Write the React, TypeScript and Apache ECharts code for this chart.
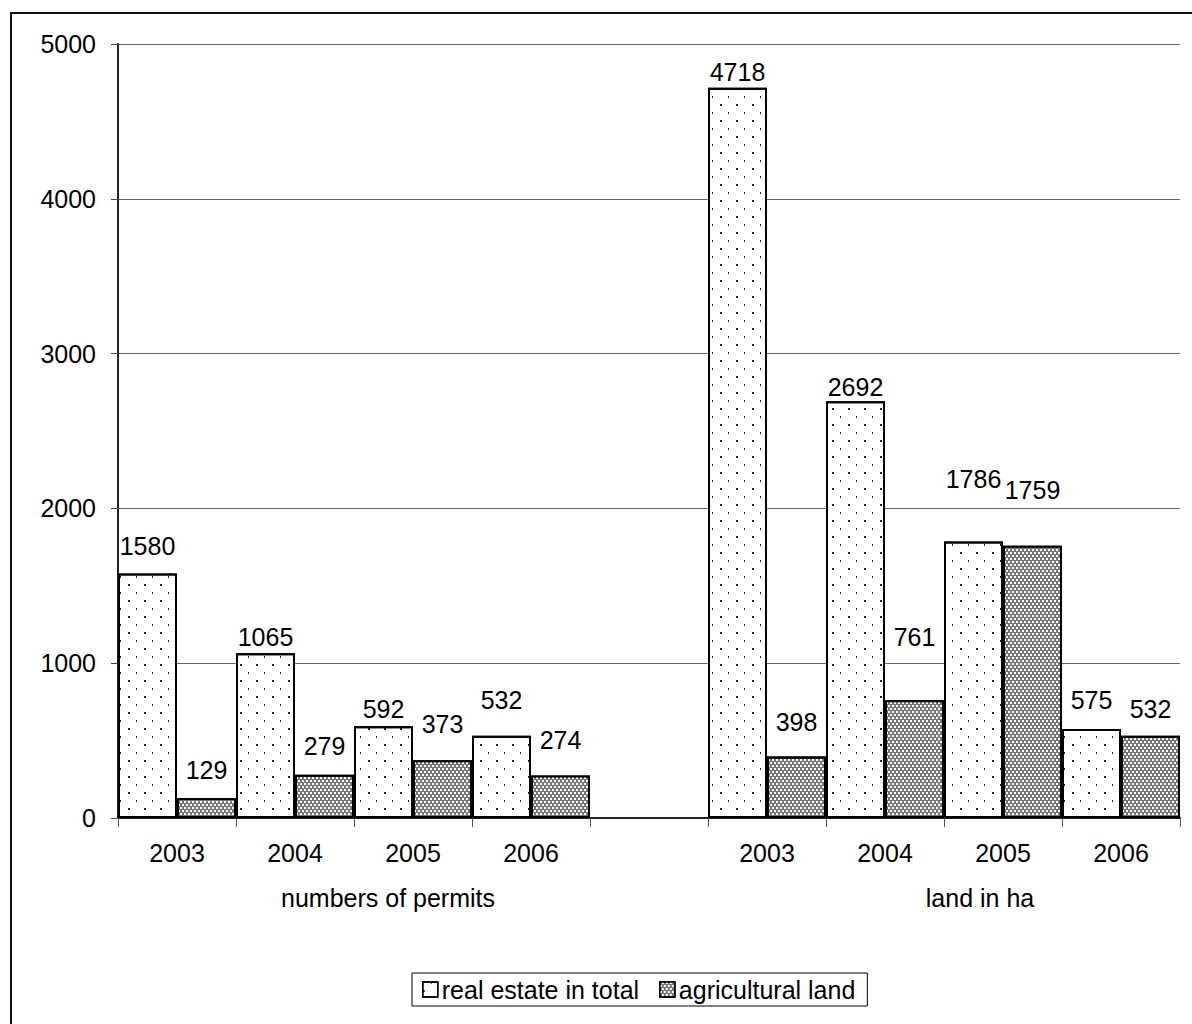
import React, { useEffect, useRef } from "react";
import * as echarts from "echarts";

const CATEGORIES = ["2003", "2004", "2005", "2006", "", "2003", "2004", "2005", "2006"];
const REAL_ESTATE = [1580, 1065, 592, 532, null, 4718, 2692, 1786, 575];
const AGRICULTURAL = [129, 279, 373, 274, null, 398, 761, 1759, 532];
const REAL_LABEL_GAP = [15, 4, 5, 23, 0, 3, 2, 50, 16];
const AGRI_LABEL_GAP = [16, 16, 24, 23, 0, 22, 51, 43, 14];
const GROUP_LABELS = ["numbers of permits", "land in ha"];
const SERIES_NAMES = ["real estate in total", "agricultural land"];
const Y_MIN = 0;
const Y_MAX = 5000;
const Y_INTERVAL = 1000;

const FONT = "'Liberation Sans', Arial, sans-serif";
const FS = 25;

function buildData(values: (number | null)[], gaps: number[]) {
  return values.map((v, i) =>
    v === null ? "-" : { value: v, label: { distance: gaps[i] } }
  );
}

export default function App() {
  const ref = useRef<HTMLDivElement>(null);
  useEffect(() => {
    if (!ref.current) return;
    const chart = echarts.init(ref.current, null, { renderer: "svg" });
    const realDecal = {
      symbol: "rect",
      symbolSize: 1,
      symbolKeepAspect: false,
      color: "#222222",
      backgroundColor: "#ffffff",
      dashArrayX: [[2, 14], [0, 8, 1, 7]],
      dashArrayY: [2, 6],
    };
    const agriDecal = {
      symbol: "rect",
      symbolSize: 1,
      symbolKeepAspect: false,
      color: "#ffffff",
      backgroundColor: "#444444",
      dashArrayX: [[2, 2], [0, 2, 2, 0]],
      dashArrayY: [2, 1],
    };
    const labelCommon = {
      show: true,
      position: "top",
      fontSize: FS,
      fontFamily: FONT,
      color: "#000",
    };
    chart.setOption({
      animation: false,
      backgroundColor: "#fff",
      textStyle: { fontFamily: FONT },
      grid: { left: 118, right: 12, top: 44, bottom: 206, containLabel: false },
      legend: {
        data: SERIES_NAMES,
        left: 412,
        top: 973,
        orient: "horizontal",
        itemWidth: 15,
        itemHeight: 15,
        itemGap: 20,
        padding: [4, 12, 4, 10],
        borderColor: "#000",
        borderWidth: 1,
        icon: "rect",
        itemStyle: { borderColor: "#000", borderWidth: 1.5 },
        textStyle: { fontSize: FS, fontFamily: FONT, color: "#000", padding: [0, 0, 0, -1] },
      },
      xAxis: {
        type: "category",
        data: CATEGORIES,
        boundaryGap: true,
        axisLine: { show: true, lineStyle: { color: "#222", width: 2 } },
        axisTick: { show: true, alignWithLabel: false, length: 9, lineStyle: { color: "#555", width: 1 } },
        axisLabel: { interval: 0, fontSize: FS, fontFamily: FONT, color: "#000", margin: 22 },
      },
      yAxis: {
        type: "value",
        min: Y_MIN,
        max: Y_MAX,
        interval: Y_INTERVAL,
        axisLine: { show: true, lineStyle: { color: "#222", width: 2 } },
        axisTick: { show: true, length: 7, lineStyle: { color: "#444", width: 1 } },
        axisLabel: {
          fontSize: FS,
          fontFamily: FONT,
          color: "#000",
          margin: 22,
          formatter: (v: number) => String(v),
        },
        splitLine: { show: true, lineStyle: { color: "#666", width: 1 } },
      },
      series: [
        {
          name: SERIES_NAMES[0],
          type: "bar",
          data: buildData(REAL_ESTATE, REAL_LABEL_GAP),
          barGap: "0%",
          barCategoryGap: "0%",
          itemStyle: { color: "#ffffff", borderColor: "#000", borderWidth: 2, decal: realDecal },
          label: labelCommon,
        },
        {
          name: SERIES_NAMES[1],
          type: "bar",
          data: buildData(AGRICULTURAL, AGRI_LABEL_GAP),
          barGap: "0%",
          barCategoryGap: "0%",
          itemStyle: { color: "#777777", borderColor: "#000", borderWidth: 2, decal: agriDecal },
          label: labelCommon,
        },
      ],
      graphic: [
        {
          type: "rect",
          shape: { x: 11, y: 13, width: 1300, height: 1200 },
          style: { fill: "none", stroke: "#111", lineWidth: 2 },
          silent: true,
          z: -1,
        },
        {
          type: "text",
          x: 388,
          y: 898,
          style: {
            text: GROUP_LABELS[0],
            fontSize: FS,
            fontFamily: FONT,
            fill: "#000",
            align: "center",
            verticalAlign: "middle",
            textAlign: "center",
            textVerticalAlign: "middle",
          },
        },
        {
          type: "text",
          x: 980,
          y: 898,
          style: {
            text: GROUP_LABELS[1],
            fontSize: FS,
            fontFamily: FONT,
            fill: "#000",
            align: "center",
            verticalAlign: "middle",
            textAlign: "center",
            textVerticalAlign: "middle",
          },
        },
      ],
    });
    return () => chart.dispose();
  }, []);
  return (
    <div
      ref={ref}
      style={{ position: "absolute", left: 0, top: 0, width: 1192, height: 1024 }}
    />
  );
}
